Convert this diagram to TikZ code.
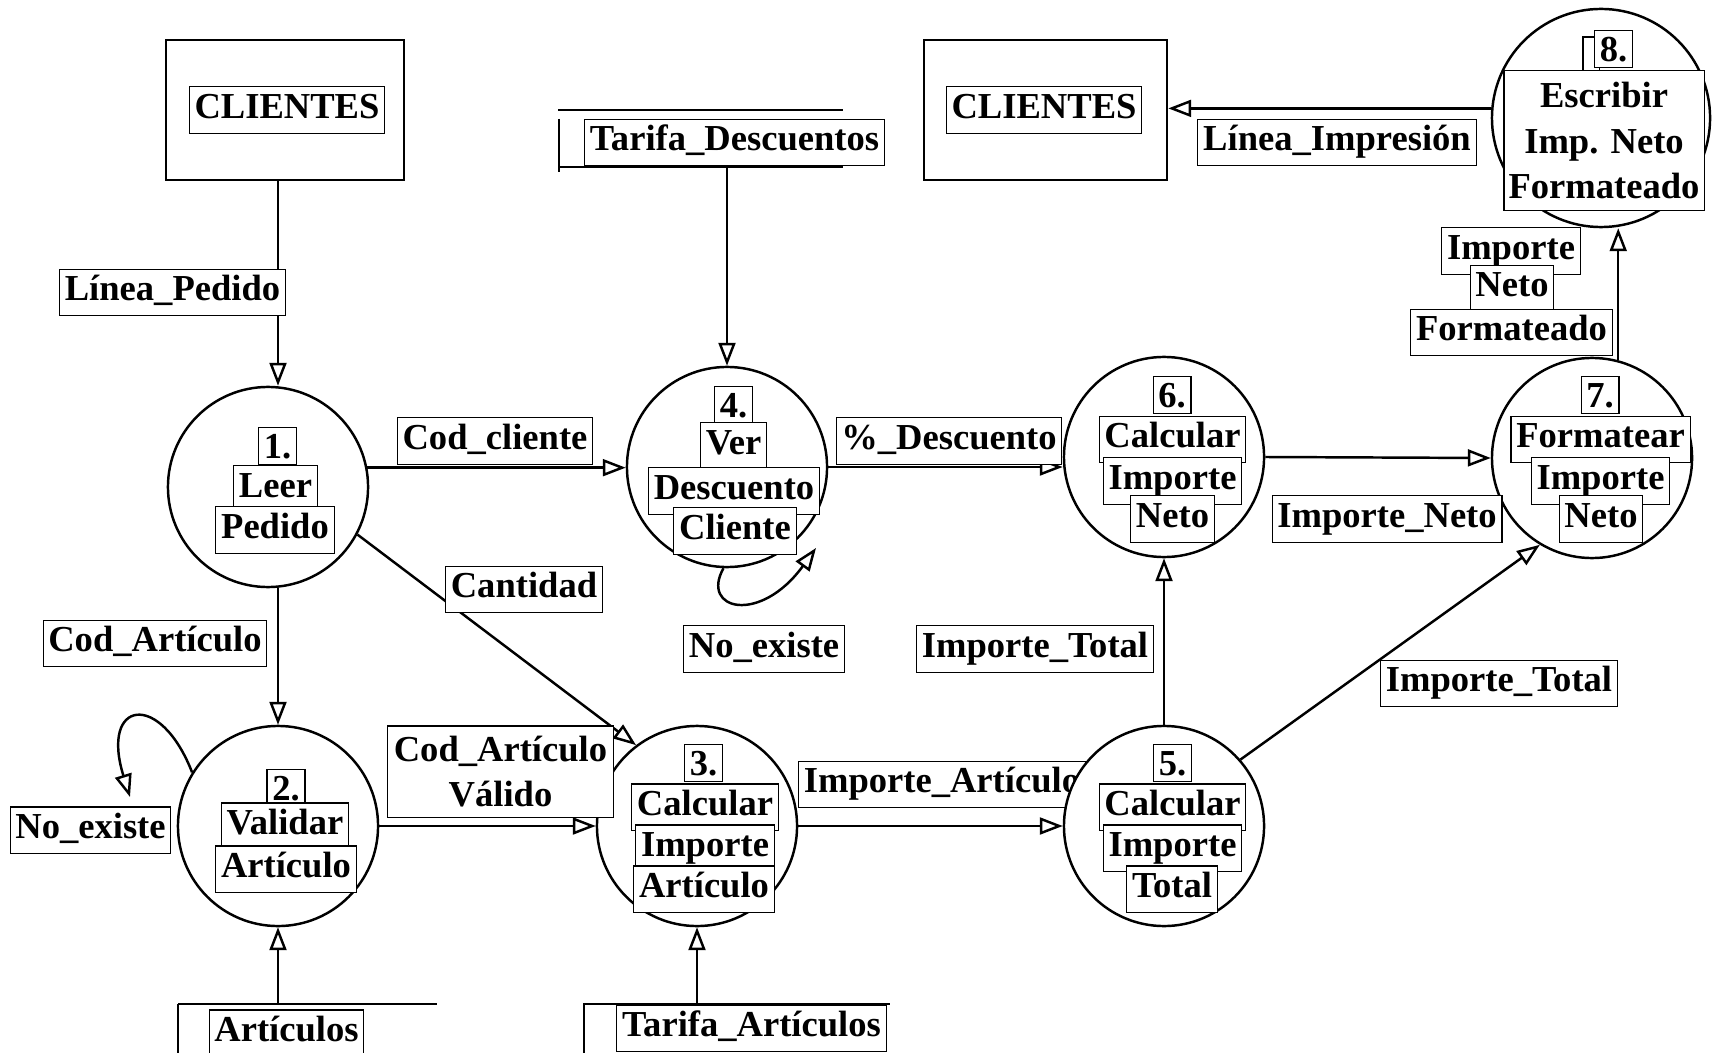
\documentclass[tikz,border=0pt]{standalone}
\usepackage{fontspec}
\setmainfont{Liberation Serif}
\usetikzlibrary{arrows.meta,positioning,calc}

\newcommand{\dfdfont}{\bfseries\fontsize{10.4}{12.9}\selectfont}

\tikzset{
  proc/.style={circle, draw, line width=0.7pt, fill=white, minimum size=2cm, inner sep=0pt},
  ext/.style={draw, line width=0.7pt, minimum width=2.38cm, minimum height=1.4cm},
  txt/.style={draw, line width=0.3pt, fill=white, inner xsep=1.5pt, inner ysep=1.35pt,
              text height=7.6pt, text depth=2.8pt, font=\dfdfont},
  num/.style={txt, text depth=0.4pt},
  blk/.style={draw, line width=0.3pt, fill=white, align=center, inner sep=1pt, font=\dfdfont},
  flow/.style={line width=0.7pt, -{Triangle[open, length=6.5pt, width=4.8pt]}},
  store/.style={line width=0.7pt},
}

\begin{document}
\begin{tikzpicture}[x=0.01cm, y=-0.01cm]
  \useasboundingbox (0,0) rectangle (1713,1052);

  %%%%%%%%%%%%%%%%%%%%%%%%%%%%%%
  % External entities          %
  %%%%%%%%%%%%%%%%%%%%%%%%%%%%%%
  \node[ext] (cliA) at (285,110) {};
  \node[txt] (cliAt) at (287,110) {CLIENTES};
  \node[ext, minimum width=2.43cm] (cliB) at (1045.5,110) {};
  \node[txt] (cliBt) at (1044,110) {CLIENTES};

  %%%%%%%%%%%%%%%%%%%%%%%%%%%%%%
  % Data stores                %
  %%%%%%%%%%%%%%%%%%%%%%%%%%%%%%
  % Tarifa_Descuentos
  \draw[store] (558,110) -- (843,110);
  \draw[store] (559,119) -- (559,172);
  \draw[store] (559,167) -- (843,167);
  \node[txt] (tdesc) at (734.5,142.5) {Tarifa\_Descuentos};
  % Articulos
  \coordinate (artTop) at (178,1004);
  \draw[store] (artTop) -- (437,1004);
  \draw[store] (artTop) -- (178,1060);
  \node[txt] (art) at (286.5,1033) {Artículos};
  % Tarifa_Articulos
  \coordinate (tartTop) at (583,1004);
  \draw[store] (tartTop) -- (890,1004);
  \draw[store] (584,1004) -- (584,1060);
  \node[txt] (tart) at (751.5,1028) {Tarifa\_Artículos};

  % label partly hidden behind process 5
  \node[txt, anchor=west] (lImpArt) at (798,784.5) {Importe\_Artículo};

  %%%%%%%%%%%%%%%%%%%%%%%%%%%%%%
  % Processes                  %
  %%%%%%%%%%%%%%%%%%%%%%%%%%%%%%
  \node[proc] (p1) at (268,487) {};
  \node[proc] (p2) at (278,826) {};
  \node[proc] (p3) at (697,826) {};
  \node[proc] (p4) at (727,467) {};
  \node[proc] (p5) at (1164,826) {};
  \node[proc] (p6) at (1164,457) {};
  \node[proc] (p7) at (1592,458) {};
  \node[proc, minimum size=2.18cm] (p8) at (1601,118) {};

  % 1. Leer Pedido
  \node[num] (n1) at (277.5,446) {1.};
  \node[txt] (p1a) at (275.5,489) {Leer};
  \node[txt] (p1b) at (275,530) {Pedido};
  % 2. Validar Articulo
  \node[num] (n2) at (286,788) {2.};
  \node[txt] (p2a) at (285,826) {Validar};
  \node[txt] (p2b) at (286,869) {Artículo};
  % 3. Calcular Importe Articulo
  \node[num] (n3) at (703.5,763) {3.};
  \node[txt] (p3a) at (705,807) {Calcular};
  \node[txt] (p3b) at (705,848) {Importe};
  \node[txt] (p3c) at (704,889) {Artículo};
  % 4. Ver Descuento Cliente
  \node[num] (n4) at (733.5,405) {4.};
  \node[txt] (p4a) at (733.5,446) {Ver};
  \node[txt] (p4b) at (734,491) {Descuento};
  \node[txt] (p4c) at (735,531) {Cliente};
  % 5. Calcular Importe Total
  \node[num] (n5) at (1172.5,763) {5.};
  \node[txt] (p5a) at (1172.5,807) {Calcular};
  \node[txt] (p5b) at (1172.5,848) {Importe};
  \node[txt] (p5c) at (1172,889) {Total};
  % 6. Calcular Importe Neto
  \node[num] (n6) at (1172,395) {6.};
  \node[txt] (p6a) at (1172.5,439.5) {Calcular};
  \node[txt] (p6b) at (1172.5,481) {Importe};
  \node[txt] (p6c) at (1172.5,519) {Neto};
  % 7. Formatear Importe Neto
  \node[num] (n7) at (1600,395) {7.};
  \node[txt] (p7a) at (1600.5,439.5) {Formatear};
  \node[txt] (p7b) at (1600.5,481) {Importe};
  \node[txt] (p7c) at (1601,519) {Neto};
  % 8. Escribir Imp. Neto Formateado
  \node[draw, line width=0.3pt, minimum width=0.16cm, minimum height=0.34cm, inner sep=0pt] (n8x) at (1591,54) {};
  \node[num] (n8) at (1613.5,49) {8.};
  \node[blk, minimum width=2cm, minimum height=1.39cm] (p8a) at (1604,140.5) {Escribir\\Imp. Neto\\Formateado};

  %%%%%%%%%%%%%%%%%%%%%%%%%%%%%%
  % Data flows                 %
  %%%%%%%%%%%%%%%%%%%%%%%%%%%%%%
  \draw[flow] (p2 |- cliA.south) -- (p2 |- p1.north);
  \draw[flow] (p2 |- p1.south) -- (p2.north);
  \draw[flow] (p2 |- artTop) -- (p2.south);
  \draw[flow] (p4 |- tdesc.south) -- (p4.north);
  \draw[flow] (p3 |- tartTop) -- (p3.south);
  \draw[flow] (p1.11) -- (p1.11 -| p4.west);
  \draw[flow] (p4.east) -- (p4.east -| p6.west);
  \draw[flow] (p1.-28) -- (p3.127);
  \draw[flow] (p2.east) -- (p3.west);
  \draw[flow] (p3.east) -- (p5.west);
  \draw[flow] (p5.north) -- (p6.south);
  \draw[flow] (p5.41) -- (p7.239);
  \draw[flow] (p6.east) -- (p7.west);
  \draw[flow] (p7.75) -- (p7.75 |- p8.south);
  \draw[flow] (p8.175) -- (p8.175 -| cliB.east);
  % self loops (No_existe)
  \coordinate (nx2) at (130,797);
  \coordinate (nx4) at (816,548);
  \draw[flow] (p2.148) .. controls (160,690) and (100,700) .. (nx2);
  \draw[flow] (p4.-92) .. controls (700,610) and (760,625) .. (nx4);

  %%%%%%%%%%%%%%%%%%%%%%%%%%%%%%
  % Flow labels                %
  %%%%%%%%%%%%%%%%%%%%%%%%%%%%%%
  \node[txt] (lPed) at (172.5,292.5) {Línea\_Pedido};
  \node[txt] (lCodCli) at (495,441) {Cod\_cliente};
  \node[txt] (lDesc) at (949,441) {\%\_Descuento};
  \node[txt] (lCodArt) at (155,643.5) {Cod\_Artículo};
  \node[txt] (lCant) at (524,589.5) {Cantidad};
  \node[txt] (lNoEx2) at (90.5,830) {No\_existe};
  \node[blk, minimum width=2.25cm, minimum height=0.91cm] (lValido) at (500.5,771.5) {Cod\_Artículo\\Válido};
  \node[txt] (lImpTot1) at (1035,649) {Importe\_Total};
  \node[txt] (lImpTot2) at (1499,683.5) {Importe\_Total};
  \node[txt] (lImpNeto) at (1387,519) {Importe\_Neto};
  \node[txt] (lNoEx4) at (764,649) {No\_existe};
  \node[txt] (lLinImp) at (1337,142.5) {Línea\_Impresión};
  \node[txt] (lINFa) at (1511,251) {Importe};
  \node[txt] (lINFb) at (1512,288.5) {Neto};
  \node[txt] (lINFc) at (1511.5,332.5) {Formateado};

\end{tikzpicture}
\end{document}
